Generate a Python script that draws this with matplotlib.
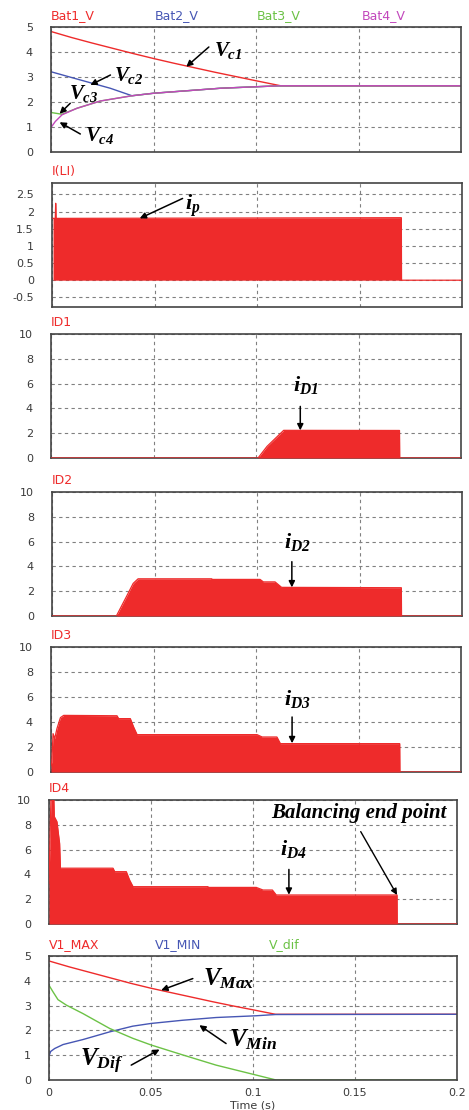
import matplotlib

matplotlib.use("Agg")
import matplotlib.pyplot as plt

W, H = 469, 1110

plt.rcParams["mathtext.fontset"] = "custom"
plt.rcParams["mathtext.it"] = "Liberation Serif:italic:bold"
plt.rcParams["mathtext.rm"] = "Liberation Serif:italic:bold"
plt.rcParams["mathtext.bf"] = "Liberation Serif:italic:bold"

RED = "#ee2b2b"
BLUE = "#4656b4"
GREEN = "#6cc246"
PINK = "#c248bc"

TIME_TICKS = [0, 0.05, 0.1, 0.15, 0.2]
TIME_LABELS = ["0", "0.05", "0.1", "0.15", "0.2"]

# panel 1: battery voltages
bat1_t = [0, 0.01, 0.02, 0.03, 0.04, 0.05, 0.06, 0.07, 0.08, 0.09, 0.1, 0.112, 0.2]
bat1_v = [4.82, 4.58, 4.36, 4.15, 3.94, 3.74, 3.55, 3.37, 3.19, 3.02, 2.85, 2.65, 2.65]
bat2_t = [0, 0.01, 0.0192, 0.0289, 0.0395, 0.05, 0.0663, 0.0826, 0.1, 0.112, 0.2]
bat2_v = [3.21, 2.98, 2.77, 2.55, 2.25, 2.35, 2.45, 2.55, 2.61, 2.65, 2.65]
bat3_t = [0, 0.0054, 0.0127, 0.0241, 0.0395, 0.05, 0.0663, 0.0826, 0.1, 0.112, 0.2]
bat3_v = [1.58, 1.51, 1.75, 2.04, 2.25, 2.35, 2.45, 2.55, 2.61, 2.65, 2.65]
bat4_t = [0, 0.0021, 0.0054, 0.0127, 0.0241, 0.0395, 0.05, 0.0663, 0.0826, 0.1, 0.112, 0.2]
bat4_v = [0.98, 1.22, 1.49, 1.75, 2.04, 2.25, 2.35, 2.45, 2.55, 2.61, 2.65, 2.65]

# panel 2: inductor current envelope
il_t = [0.0005, 0.0016, 0.0018, 0.002, 0.1704, 0.1705, 0.2]
il_v = [1.8, 1.8, 2.24, 1.8, 1.82, 0.0, 0.0]
il_ticks = [-0.5, 0, 0.5, 1, 1.5, 2, 2.5]
il_labels = ["-0.5", "0", "0.5", "1", "1.5", "2", "2.5"]

# panels 3-6: diode current envelopes
id1_t = [0, 0.101, 0.1054, 0.1135, 0.170, 0.1701, 0.2]
id1_v = [0, 0, 0.94, 2.23, 2.22, 0, 0]
id2_t = [0, 0.0314, 0.0363, 0.0396, 0.042, 0.0779, 0.078, 0.1015, 0.1031, 0.1088, 0.112, 0.1704, 0.1705, 0.2]
id2_v = [0, 0, 1.56, 2.63, 3.0, 3.0, 2.95, 2.95, 2.75, 2.75, 2.31, 2.28, 0, 0]
id3_t = [0, 0.0004, 0.001, 0.0018, 0.0029, 0.0046, 0.0062, 0.0322, 0.033, 0.0387, 0.0403, 0.042,
         0.1005, 0.103, 0.1102, 0.1119, 0.1701, 0.1702, 0.2]
id3_v = [0.5, 0.8, 3.07, 2.67, 3.47, 4.35, 4.53, 4.5, 4.27, 4.27, 3.6, 2.99,
         2.99, 2.8, 2.8, 2.27, 2.27, 0, 0]
id4_t = [0, 0.0005, 0.001, 0.0023, 0.0026, 0.0039, 0.0046, 0.0052, 0.0056, 0.0314, 0.0322, 0.0379,
         0.0395, 0.0412, 0.0779, 0.078, 0.1016, 0.1049, 0.1095, 0.1114, 0.1706, 0.1707, 0.2]
id4_v = [3.28, 6.8, 10.5, 10.5, 8.66, 8.25, 7.3, 6.5, 4.5, 4.5, 4.22, 4.22,
         3.55, 3.01, 3.01, 2.95, 2.95, 2.74, 2.74, 2.34, 2.34, 0, 0]
id_ticks = [0, 2, 4, 6, 8, 10]
id_labels = ["0", "2", "4", "6", "8", "10"]

# panel 7: max / min / difference
vmax_t = [0, 0.01, 0.02, 0.03, 0.04, 0.05, 0.06, 0.07, 0.08, 0.09, 0.1, 0.111, 0.2]
vmax_v = [4.8, 4.56, 4.34, 4.12, 3.9, 3.7, 3.52, 3.34, 3.16, 2.99, 2.83, 2.65, 2.65]
vmin_t = [0, 0.0008, 0.0028, 0.0069, 0.0166, 0.0297, 0.041, 0.05, 0.0656, 0.082, 0.1015, 0.111, 0.2]
vmin_v = [0.97, 1.15, 1.27, 1.43, 1.63, 1.94, 2.17, 2.28, 2.41, 2.52, 2.59, 2.64, 2.65]
vdif_t = [0, 0.002, 0.0044, 0.0085, 0.0166, 0.0297, 0.0411, 0.0501, 0.0656, 0.0819, 0.1015, 0.1113, 0.2]
vdif_v = [3.82, 3.55, 3.24, 3.02, 2.68, 2.08, 1.68, 1.41, 1.01, 0.6, 0.2, 0.0, 0.0]
v_ticks = [0, 1, 2, 3, 4, 5]
v_labels = ["0", "1", "2", "3", "4", "5"]


def _rect(left, right, top, bottom):
    return [left / W, 1 - bottom / H, (right - left) / W, (bottom - top) / H]


def _style(ax, ylim, yticks, ylabels, xlabels=False):
    ax.set_xlim(0, 0.2)
    ax.set_ylim(*ylim)
    ax.set_xticks(TIME_TICKS)
    ax.set_xticklabels(TIME_LABELS if xlabels else [])
    ax.set_yticks(yticks)
    ax.set_yticklabels(ylabels)
    ax.grid(True, color="#808080", linestyle=(0, (3, 3)), linewidth=0.8)
    ax.tick_params(length=0, labelsize=8, labelcolor="#3a3a3a")
    ax.tick_params(axis="y", pad=13)
    ax.tick_params(axis="x", pad=6)
    for s in ax.spines.values():
        s.set_color("#444444")
        s.set_linewidth(1.2)


def _names(ax, names, colors, xs):
    for name, c, x in zip(names, colors, xs):
        ax.text(x, 1.095, name, color=c, fontsize=9, transform=ax.transAxes, ha="left", va="center")


def _label(ax, text, pos, tail, tip, size=15):
    ax.text(pos[0], pos[1], text, fontsize=size, ha="left", va="center", zorder=5)
    ax.annotate("", xy=tip, xytext=tail,
                arrowprops=dict(arrowstyle="-|>", color="black", lw=1.1, mutation_scale=9,
                                shrinkA=0, shrinkB=0), zorder=5)


def _current(ax, t, v):
    ax.fill_between(t, 0, v, color=RED, linewidth=0, zorder=3)
    ax.plot(t, v, color=RED, linewidth=0.9, zorder=3)


fig = plt.figure(figsize=(W / 100, H / 100), dpi=100)

# battery voltages
ax = fig.add_axes(_rect(51, 461, 27, 152))
ax.plot(bat1_t, bat1_v, color=RED, lw=1)
ax.plot(bat2_t, bat2_v, color=BLUE, lw=1)
ax.plot(bat3_t, bat3_v, color=GREEN, lw=1)
ax.plot(bat4_t, bat4_v, color=PINK, lw=1)
_style(ax, (0, 5), v_ticks, v_labels)
_names(ax, ["Bat1_V", "Bat2_V", "Bat3_V", "Bat4_V"], [RED, BLUE, GREEN, PINK], [0.0, 0.252, 0.503, 0.757])
_label(ax, r"$V_{c1}$", (0.0793, 4.07), (0.077, 4.2), (0.066, 3.41))
_label(ax, r"$V_{c2}$", (0.0306, 3.04), (0.029, 3.08), (0.0192, 2.68))
_label(ax, r"$V_{c3}$", (0.0086, 2.32), (0.0094, 1.95), (0.0042, 1.53))
_label(ax, r"$V_{c4}$", (0.0167, 0.65), (0.0143, 0.72), (0.0042, 1.19))

# inductor current
ax = fig.add_axes(_rect(52, 462, 183, 307))
_current(ax, il_t, il_v)
_style(ax, (-0.78, 2.83), il_ticks, il_labels)
_names(ax, ["I(LI)"], [RED], [0.0])
_label(ax, r"$i_p$", (0.0648, 2.18), (0.0637, 2.38), (0.0428, 1.80), size=16)

# diode currents
diodes = [
    (id1_t, id1_v, "ID1", (51, 461, 334, 458), r"$i_{D1}$", (0.118, 5.9), (0.1216, 4.16), (0.1216, 2.23)),
    (id2_t, id2_v, "ID2", (52, 462, 492, 616), r"$i_{D2}$", (0.113, 6.0), (0.117, 4.38), (0.117, 2.31)),
    (id3_t, id3_v, "ID3", (51, 461, 647, 772), r"$i_{D3}$", (0.1135, 5.87), (0.1176, 4.4), (0.1176, 2.3)),
    (id4_t, id4_v, "ID4", (49, 457, 800, 924), r"$i_{D4}$", (0.113, 6.02), (0.1176, 4.4), (0.1176, 2.36)),
]
for t, v, name, box, lab, pos, tail, tip in diodes:
    ax = fig.add_axes(_rect(*box))
    _current(ax, t, v)
    _style(ax, (0, 10), id_ticks, id_labels)
    _names(ax, [name], [RED], [0.0])
    _label(ax, lab, pos, tail, tip, size=16)

ax.text(0.152, 8.95, "Balancing end point", family="Liberation Serif", style="italic", weight="bold",
        fontsize=15, ha="center", va="center", zorder=5)
ax.annotate("", xy=(0.1706, 2.34), xytext=(0.1528, 7.45),
            arrowprops=dict(arrowstyle="-|>", color="black", lw=1.0, mutation_scale=9, shrinkA=0, shrinkB=0))

# max / min / difference
ax = fig.add_axes(_rect(49, 457, 956, 1080))
ax.plot(vmax_t, vmax_v, color=RED, lw=1)
ax.plot(vmin_t, vmin_v, color=BLUE, lw=1)
ax.plot(vdif_t, vdif_v, color=GREEN, lw=1)
_style(ax, (0, 5), v_ticks, v_labels, xlabels=True)
_names(ax, ["V1_MAX", "V1_MIN", "V_dif"], [RED, BLUE, GREEN], [0.0, 0.26, 0.54])
_label(ax, r"$V_{Max}$", (0.0753, 4.09), (0.0705, 4.09), (0.055, 3.62), size=18)
_label(ax, r"$V_{Min}$", (0.0884, 1.61), (0.0868, 1.47), (0.0737, 2.21), size=18)
_label(ax, r"$V_{Dif}$", (0.015, 0.74), (0.0403, 0.6), (0.0542, 1.23), size=18)

fig.text(253 / W, 1 - 1105 / H, "Time (s)", fontsize=8, color="#3a3a3a", ha="center", va="center")

fig.savefig("out.png", dpi=100)
